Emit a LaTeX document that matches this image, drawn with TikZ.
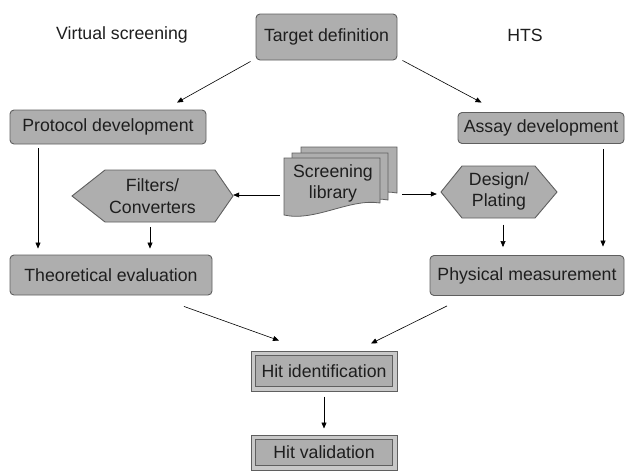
\documentclass[tikz,border=0pt]{standalone}
\usepackage{fontspec}
\setmainfont{Liberation Sans}
\usetikzlibrary{arrows.meta}
\definecolor{boxfill}{RGB}{174,174,174}
\definecolor{boxline}{RGB}{95,95,95}
\definecolor{bevel}{RGB}{200,200,200}
\definecolor{txt}{RGB}{30,30,30}
\begin{document}
\begin{tikzpicture}[x=1pt,y=-1pt,
  every node/.style={font=\fontsize{17.7}{21.5}\selectfont, text=txt, align=center, inner sep=0pt},
  rbox/.style={draw=boxline, fill=boxfill, rounded corners=4pt, line width=0.9pt},
  hitbox/.style={draw=boxline, fill=bevel, line width=1pt},
  conn/.style={draw=black, line width=0.6pt, -{Triangle[length=6pt,width=5pt]}},
  page/.style={draw=boxline, fill=boxfill, line width=0.8pt},
  hexshape/.style={draw=boxline, fill=boxfill, line width=0.9pt}]
\useasboundingbox (0,0) rectangle (629,472);

% labels
\node (vs) at (122,35) {Virtual screening};
\node (hts) at (525,35) {HTS};

% rounded boxes
\node[rbox, minimum width=141pt, minimum height=46pt] (tgt) at (326.5,37) {Target definition};
\node[rbox, minimum width=196pt, minimum height=34pt] (proto) at (108,127) {Protocol development};
\node[rbox, minimum width=166pt, minimum height=31pt] (assay) at (541,128) {Assay development};
\node[rbox, minimum width=202pt, minimum height=40pt] (theo) at (111,275) {Theoretical evaluation};
\node[rbox, minimum width=194pt, minimum height=40pt] (phys) at (527,275.5) {Physical measurement};

% hit boxes (bevelled double border)
\node[hitbox, minimum width=146pt, minimum height=40pt] (hitid) at (324,371) {};
\draw[draw=boxline, fill=boxfill, line width=0.8pt] ([xshift=5pt,yshift=5pt]hitid.south west) rectangle ([xshift=-5pt,yshift=-5pt]hitid.north east);
\node at (hitid.center) {Hit identification};
\node[hitbox, minimum width=146pt, minimum height=35pt] (hitval) at (324,452.5) {};
\draw[draw=boxline, fill=boxfill, line width=0.8pt] ([xshift=5pt,yshift=5pt]hitval.south west) rectangle ([xshift=-5pt,yshift=-5pt]hitval.north east);
\node at (hitval.center) {Hit validation};

% hexagons
\draw[hexshape] (72,196) -- (105,170) -- (215,170) -- (233,196) -- (215,222) -- (105,222) -- cycle;
\node[minimum width=161pt, minimum height=52pt] (filt) at (152.5,196) {Filters/\\Converters};
\draw[hexshape] (441,192) -- (462,166) -- (535,166) -- (557,192) -- (535,218) -- (462,218) -- cycle;
\node[minimum width=116pt, minimum height=52pt] (design) at (499,191.5) {Design/\\Plating};

% screening library (stacked documents)
\draw[page] (301,147) -- (397,147) -- (397,193) .. controls (370,188) and (330,203) .. (301,200) -- cycle;
\draw[page] (292,153) -- (388,153) -- (388,200) .. controls (360,195) and (320,210) .. (292,207) -- cycle;
\draw[page] (284,158) -- (380,158) -- (380,203) .. controls (350,198) and (315,222) .. (284,215) -- cycle;
\node[minimum width=113pt, minimum height=70pt] (lib) at (340.5,182) {};
\node at (333,183.5) {Screening\\library};

% connectors
\draw[conn] ([xshift=-5pt,yshift=-1pt]tgt.south west) -- ([xshift=69pt,yshift=7pt]proto.north);
\draw[conn] ([xshift=5pt,yshift=0pt]tgt.south east) -- ([xshift=-59.5pt,yshift=9.5pt]assay.north);
\draw[conn] ([xshift=-70pt,yshift=-4pt]proto.south) -- ([xshift=-73pt,yshift=6pt]theo.north);
\draw[conn] ([xshift=-2.5pt,yshift=-5pt]filt.south) -- ([xshift=39pt,yshift=6pt]theo.north);
\draw[conn] ([xshift=-4pt,yshift=-13pt]lib.west) -- ([xshift=0pt,yshift=1pt]filt.east);
\draw[conn] ([xshift=5pt,yshift=-12pt]lib.east) -- ([xshift=-4pt,yshift=-2.5pt]design.west);
\draw[conn] ([xshift=4pt,yshift=-7pt]design.south) -- ([xshift=-24pt,yshift=8pt]phys.north);
\draw[conn] ([xshift=62pt,yshift=-5pt]assay.south) -- ([xshift=76pt,yshift=8.5pt]phys.north);
\draw[conn] ([xshift=73pt,yshift=-11pt]theo.south) -- ([xshift=-45pt,yshift=10pt]hitid.north);
\draw[conn] ([xshift=-80pt,yshift=-10pt]phys.south) -- ([xshift=47pt,yshift=7pt]hitid.north);
\draw[conn] ([yshift=-5pt]hitid.south) -- ([yshift=6pt]hitval.north);
\end{tikzpicture}
\end{document}
